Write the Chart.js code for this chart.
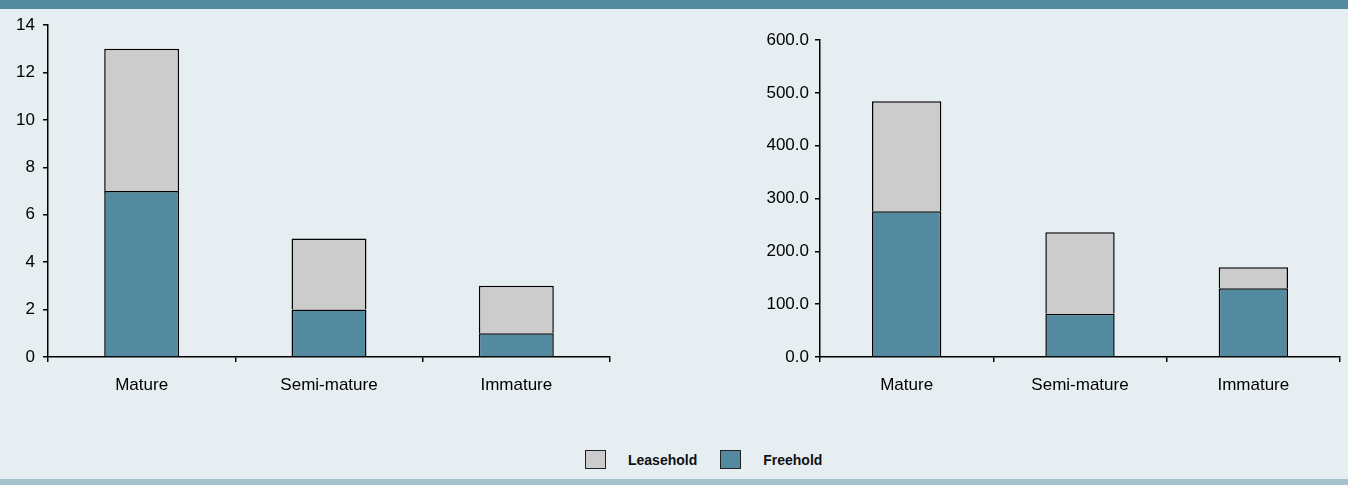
<!DOCTYPE html>
<html>
<head>
<meta charset="utf-8">
<script src="https://cdn.jsdelivr.net/npm/chart.js@4.4.1/dist/chart.umd.min.js"></script>
<style>
  html, body { margin: 0; padding: 0; }
  body { width: 1348px; height: 485px; background: #e6eef1; position: relative; overflow: hidden; font-family: 'Liberation Sans', Arial, sans-serif; }
  #topbar { position: absolute; left: 0; top: 0; width: 1348px; height: 9px; background: #548a9f; }
  #bottombar { position: absolute; left: 0; top: 479px; width: 1348px; height: 6px; background: #a6c3cd; }
  #countChart { position: absolute; left: 0; top: 0; }
  #areaChart { position: absolute; left: 680px; top: 0; }
  #legend { position: absolute; left: 585px; top: 450px; display: flex; align-items: center; font-size: 14px; font-weight: bold; color: #111; }
  #legend .item { display: flex; align-items: center; margin-right: 23px; }
  #legend .box { width: 19px; height: 17px; border: 1px solid #222; margin-right: 22px; }
</style>
</head>
<body>
<div id="topbar"></div>
<canvas id="countChart" width="620" height="410"></canvas>
<canvas id="areaChart" width="668" height="410"></canvas>
<div id="legend"></div>
<div id="bottombar"></div>
<script>
const categories = ['Mature', 'Semi-mature', 'Immature'];
const seriesNames = ['Freehold', 'Leasehold'];
const seriesColors = ['#548a9f', '#cccccc'];

// left panel: number of properties
const countFreehold = [7, 2, 1];
const countLeasehold = [6, 3, 2];
const countMax = 14;
const countStep = 2;

// right panel: area
const areaFreehold = [276, 82, 130];
const areaLeasehold = [208, 154, 40];
const areaMax = 600;
const areaStep = 100;

const tickFont = { family: "'Liberation Sans Narrow', 'Arial Narrow', 'Liberation Sans', Arial, sans-serif", size: 17 };

function makeChart(id, freehold, leasehold, max, step, yWidth, padTop, padRight, fmt, yPad) {
    return new Chart(document.getElementById(id), {
        type: 'bar',
        data: {
            labels: categories,
            datasets: [
                { label: seriesNames[0], data: freehold, backgroundColor: seriesColors[0], borderColor: '#000', borderWidth: 1.5 },
                { label: seriesNames[1], data: leasehold, backgroundColor: seriesColors[1], borderColor: '#000', borderWidth: 1.5 }
            ]
        },
        options: {
            responsive: false,
            animation: false,
            barPercentage: 0.4,
            categoryPercentage: 1,
            layout: { padding: { left: 0, top: padTop, right: padRight, bottom: 8 } },
            plugins: { legend: { display: false }, tooltip: { enabled: false } },
            scales: {
                x: {
                    stacked: true,
                    border: { display: true, color: '#000', width: 1.5 },
                    grid: { drawOnChartArea: false, drawTicks: true, tickLength: 5, color: '#000', lineWidth: 1.5, offset: true },
                    ticks: { color: '#000', font: tickFont, padding: 13, maxRotation: 0 },
                    afterFit: s => { s.height = 45; }
                },
                y: {
                    stacked: true,
                    min: 0,
                    max: max,
                    border: { display: true, color: '#000', width: 1.5 },
                    grid: { drawOnChartArea: false, drawTicks: true, tickLength: 5, color: '#000', lineWidth: 1.5 },
                    ticks: { stepSize: step, color: '#000', font: tickFont, padding: yPad, callback: fmt },
                    afterFit: s => { s.width = yWidth; }
                }
            }
        }
    });
}

makeChart('countChart', countFreehold, countLeasehold, countMax, countStep, 48, 25, 10, v => v, 8);
makeChart('areaChart', areaFreehold, areaLeasehold, areaMax, areaStep, 140, 40, 8, v => Number(v).toFixed(1), 6);

// legend, leasehold listed first
const legend = document.getElementById('legend');
[1, 0].forEach(i => {
    const item = document.createElement('div');
    item.className = 'item';
    const box = document.createElement('div');
    box.className = 'box';
    box.style.background = seriesColors[i];
    const txt = document.createElement('span');
    txt.textContent = seriesNames[i];
    item.appendChild(box);
    item.appendChild(txt);
    legend.appendChild(item);
});
</script>
</body>
</html>
